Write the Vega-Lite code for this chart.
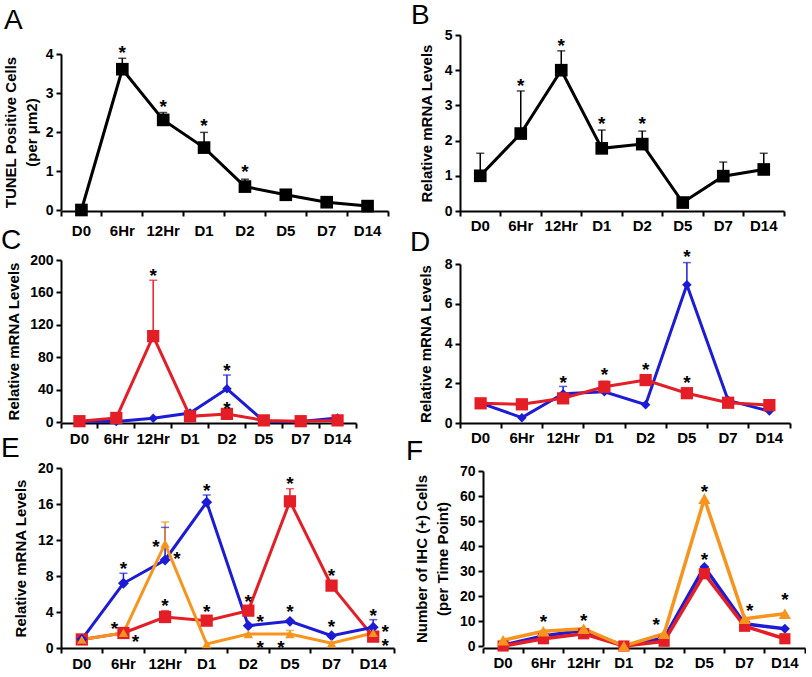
{
"$schema": "https://vega.github.io/schema/vega-lite/v6.json",
"padding": {"left": 1, "top": 2, "right": 0, "bottom": 0},
"config": {
 "view": {"stroke": null},
 "font": "Liberation Sans",
 "axis": {"domainColor": "#000", "domainWidth": 2, "tickColor": "#000", "tickWidth": 2, "tickSize": 5, "labelColor": "#000", "labelFont": "Liberation Sans", "labelFontWeight": "bold", "labelFontSize": 14, "titleColor": "#000", "titleFont": "Liberation Sans", "titleFontWeight": "bold", "titleFontSize": 15, "grid": false, "labelPadding": 3, "titlePadding": 6, "labelOverlap": false},
 "axisX": {"labelFontSize": 15, "labelAngle": 0},
 "axisY": {"tickCount": 20},
 "title": {"font": "Liberation Sans", "fontSize": 28, "fontWeight": "normal", "anchor": "start", "frame": "group", "color": "#000"}
},
"datasets": {
 "A": [{"t":"D0","v":0},{"t":"6Hr","v":3.61,"hi":3.89},{"t":"12Hr","v":2.31,"hi":2.5},{"t":"D1","v":1.6,"hi":1.99},{"t":"D2","v":0.6,"hi":0.79},{"t":"D5","v":0.39},{"t":"D7","v":0.2},{"t":"D14","v":0.1}],
 "As": [{"t":"6Hr","y":4.16},{"t":"12Hr","y":2.77},{"t":"D1","y":2.29},{"t":"D2","y":1.09}],
 "B": [{"t":"D0","v":1.0,"hi":1.64},{"t":"6Hr","v":2.2,"hi":3.41},{"t":"12Hr","v":4.0,"hi":4.55},{"t":"D1","v":1.78,"hi":2.3},{"t":"D2","v":1.9,"hi":2.27},{"t":"D5","v":0.24},{"t":"D7","v":0.99,"hi":1.39},{"t":"D14","v":1.18,"hi":1.64}],
 "Bs": [{"t":"6Hr","y":3.69},{"t":"12Hr","y":4.83},{"t":"D1","y":2.6},{"t":"D2","y":2.6}],
 "C": [{"s":"Catalase","t":"D0","v":1},{"s":"Catalase","t":"6Hr","v":0.5},{"s":"Catalase","t":"12Hr","v":4.5},{"s":"Catalase","t":"D1","v":11},{"s":"Catalase","t":"D2","v":41,"hi":58},{"s":"Catalase","t":"D5","v":1},{"s":"Catalase","t":"D7","v":0.5},{"s":"Catalase","t":"D14","v":5},
       {"s":"Gpx","t":"D0","v":1},{"s":"Gpx","t":"6Hr","v":5},{"s":"Gpx","t":"12Hr","v":106,"hi":175},{"s":"Gpx","t":"D1","v":7},{"s":"Gpx","t":"D2","v":10},{"s":"Gpx","t":"D5","v":2},{"s":"Gpx","t":"D7","v":1},{"s":"Gpx","t":"D14","v":2}],
 "Cs": [{"t":"12Hr","y":187},{"t":"D2","y":69},{"t":"D2","y":22.6}],
 "D": [{"s":"Pax7","t":"D0","v":1.0},{"s":"Pax7","t":"6Hr","v":0.27},{"s":"Pax7","t":"12Hr","v":1.47,"hi":1.84},{"s":"Pax7","t":"D1","v":1.57},{"s":"Pax7","t":"D2","v":0.92},{"s":"Pax7","t":"D5","v":6.96,"hi":8.07},{"s":"Pax7","t":"D7","v":1.14},{"s":"Pax7","t":"D14","v":0.6},
       {"s":"Pax3","t":"D0","v":0.99},{"s":"Pax3","t":"6Hr","v":0.94},{"s":"Pax3","t":"12Hr","v":1.24},{"s":"Pax3","t":"D1","v":1.82,"hi":2.1},{"s":"Pax3","t":"D2","v":2.16,"hi":2.3},{"s":"Pax3","t":"D5","v":1.5},{"s":"Pax3","t":"D7","v":1.02},{"s":"Pax3","t":"D14","v":0.9}],
 "Ds": [{"t":"12Hr","y":2.28},{"t":"D1","y":2.69},{"t":"D2","y":2.91},{"t":"D5","y":8.6},{"t":"D5","y":2.28}],
 "E": [{"s":"Myogenin","t":"D0","v":0.95},{"s":"Myogenin","t":"6Hr","v":1.67},{"s":"Myogenin","t":"12Hr","v":3.44,"hi":4.15},{"s":"Myogenin","t":"D1","v":3.04},{"s":"Myogenin","t":"D2","v":4.15},{"s":"Myogenin","t":"D5","v":16.3,"hi":17.7},{"s":"Myogenin","t":"D7","v":6.93},{"s":"Myogenin","t":"D14","v":1.26},
       {"s":"MyoD","t":"D0","v":0.96},{"s":"MyoD","t":"6Hr","v":7.19,"hi":8.3},{"s":"MyoD","t":"12Hr","v":9.78,"hi":13.4},{"s":"MyoD","t":"D1","v":16.2,"hi":17.0},{"s":"MyoD","t":"D2","v":2.48},{"s":"MyoD","t":"D5","v":2.96},{"s":"MyoD","t":"D7","v":1.37},{"s":"MyoD","t":"D14","v":2.3,"hi":3.15},
       {"s":"Cygb","t":"D0","v":0.93},{"s":"Cygb","t":"6Hr","v":1.67},{"s":"Cygb","t":"12Hr","v":11.6,"hi":14.0},{"s":"Cygb","t":"D1","v":0.44},{"s":"Cygb","t":"D2","v":1.55},{"s":"Cygb","t":"D5","v":1.55,"hi":1.95},{"s":"Cygb","t":"D7","v":0.52},{"s":"Cygb","t":"D14","v":1.67}],
 "Esc": [{"t":"6Hr","y":9.33},{"t":"12Hr","y":5.26},{"t":"D1","y":18.04},{"t":"D1","y":4.52},{"t":"D2","y":5.63},{"t":"D5","y":18.78},{"t":"D5","y":4.52},{"t":"D7","y":8.59},{"t":"D7","y":2.93},{"t":"D14","y":4.15}],
 "Esl": [{"t":"6Hr","y":2.67},{"t":"12Hr","y":11.74},{"t":"D5","y":0.56}],
 "Esr": [{"t":"6Hr","y":1.19},{"t":"12Hr","y":10.44},{"t":"D2","y":3.41},{"t":"D2","y":0.56},{"t":"D14","y":2.3},{"t":"D14","y":0.81}],
 "F": [{"s":"MyoD","t":"D0","v":0.3},{"s":"MyoD","t":"6Hr","v":4},{"s":"MyoD","t":"12Hr","v":6.3},{"s":"MyoD","t":"D1","v":0},{"s":"MyoD","t":"D2","v":3.2},{"s":"MyoD","t":"D5","v":31.6},{"s":"MyoD","t":"D7","v":8.9},{"s":"MyoD","t":"D14","v":6.9},
       {"s":"Cygb+MyoD","t":"D0","v":0},{"s":"Cygb+MyoD","t":"6Hr","v":2.9},{"s":"Cygb+MyoD","t":"12Hr","v":4.9},{"s":"Cygb+MyoD","t":"D1","v":0},{"s":"Cygb+MyoD","t":"D2","v":1.9},{"s":"Cygb+MyoD","t":"D5","v":28.9},{"s":"Cygb+MyoD","t":"D7","v":7.9},{"s":"Cygb+MyoD","t":"D14","v":2.9},
       {"s":"Cygb","t":"D0","v":2.3},{"s":"Cygb","t":"6Hr","v":5.9},{"s":"Cygb","t":"12Hr","v":6.9},{"s":"Cygb","t":"D1","v":0},{"s":"Cygb","t":"D2","v":4.9},{"s":"Cygb","t":"D5","v":58.9},{"s":"Cygb","t":"D7","v":10.9},{"s":"Cygb","t":"D14","v":12.9}],
 "Fsc": [{"t":"6Hr","y":11.6},{"t":"12Hr","y":12},{"t":"D5","y":63.6},{"t":"D5","y":36.3},{"t":"D14","y":20.3}],
 "Fsl": [{"t":"D2","y":10.3}],
 "Fsr": [{"t":"D7","y":15.9}]
},
"bounds": "full",
"spacing": -11,
"resolve": {"scale": {"x": "independent", "y": "independent", "color": "independent", "shape": "independent", "size": "independent"}, "axis": {"x": "independent", "y": "independent"}},
"vconcat": [
 {"hconcat": [
  {"width": 327, "height": 176,
   "title": {"text": "A", "dx": -57, "dy": 4},
   "encoding": {"x": {"field": "t", "type": "ordinal", "sort": ["D0","6Hr","12Hr","D1","D2","D5","D7","D14"], "scale": {"type": "band", "paddingInner": 0, "paddingOuter": 0}, "axis": {"title": null, "bandPosition": 1, "tickExtra": true, "labelPadding": 7}}},
   "layer": [
    {"data": {"name": "A"}, "transform": [{"filter": "isValid(datum.hi)"}], "mark": {"type": "rule", "strokeWidth": 1.5, "color": "#000"},
     "encoding": {"y": {"field": "v", "type": "quantitative", "scale": {"domain": [0, 4], "range": [175, 19], "nice": false}, "axis": {"title": ["TUNEL Positive Cells", "(per μm2)"], "titleLineHeight": 21, "values": [0, 1, 2, 3, 4], "format": "d"}}, "y2": {"field": "hi"}}},
    {"data": {"name": "A"}, "transform": [{"filter": "isValid(datum.hi)"}], "mark": {"type": "tick", "orient": "horizontal", "size": 8, "thickness": 1.5, "color": "#000"},
     "encoding": {"y": {"field": "hi", "type": "quantitative", "scale": {"domain": [0, 4], "range": [175, 19], "nice": false}}}},
    {"data": {"name": "A"}, "mark": {"type": "line", "strokeWidth": 3, "color": "#000"},
     "encoding": {"y": {"field": "v", "type": "quantitative", "scale": {"domain": [0, 4], "range": [175, 19], "nice": false}}}},
    {"data": {"name": "A"}, "mark": {"type": "point", "shape": "square", "filled": true, "opacity": 1, "size": 160, "color": "#000"},
     "encoding": {"y": {"field": "v", "type": "quantitative", "scale": {"domain": [0, 4], "range": [175, 19], "nice": false}}}},
    {"data": {"name": "As"}, "mark": {"type": "text", "text": "*", "fontSize": 19, "fontWeight": "bold", "baseline": "middle", "dy": 5, "color": "#000"},
     "encoding": {"y": {"field": "y", "type": "quantitative", "scale": {"domain": [0, 4], "range": [175, 19], "nice": false}}}}
   ]},
  {"width": 324, "height": 176,
   "title": {"text": "B", "dx": -49, "dy": 6},
   "encoding": {"x": {"field": "t", "type": "ordinal", "sort": ["D0","6Hr","12Hr","D1","D2","D5","D7","D14"], "scale": {"type": "band", "paddingInner": 0, "paddingOuter": 0}, "axis": {"title": null, "bandPosition": 1, "tickExtra": true, "labelPadding": 2}}},
   "layer": [
    {"data": {"name": "B"}, "transform": [{"filter": "isValid(datum.hi)"}], "mark": {"type": "rule", "strokeWidth": 1.5, "color": "#000"},
     "encoding": {"y": {"field": "v", "type": "quantitative", "scale": {"domain": [0, 5], "range": [176, 0], "nice": false}, "axis": {"title": "Relative mRNA Levels", "values": [0, 1, 2, 3, 4, 5], "titlePadding": 10, "format": "d"}}, "y2": {"field": "hi"}}},
    {"data": {"name": "B"}, "transform": [{"filter": "isValid(datum.hi)"}], "mark": {"type": "tick", "orient": "horizontal", "size": 8, "thickness": 1.5, "color": "#000"},
     "encoding": {"y": {"field": "hi", "type": "quantitative", "scale": {"domain": [0, 5], "range": [176, 0], "nice": false}}}},
    {"data": {"name": "B"}, "mark": {"type": "line", "strokeWidth": 3, "color": "#000"},
     "encoding": {"y": {"field": "v", "type": "quantitative", "scale": {"domain": [0, 5], "range": [176, 0], "nice": false}}}},
    {"data": {"name": "B"}, "mark": {"type": "point", "shape": "square", "filled": true, "opacity": 1, "size": 160, "color": "#000"},
     "encoding": {"y": {"field": "v", "type": "quantitative", "scale": {"domain": [0, 5], "range": [176, 0], "nice": false}}}},
    {"data": {"name": "Bs"}, "mark": {"type": "text", "text": "*", "fontSize": 19, "fontWeight": "bold", "baseline": "middle", "dy": 5, "color": "#000"},
     "encoding": {"y": {"field": "y", "type": "quantitative", "scale": {"domain": [0, 5], "range": [176, 0], "nice": false}}}},
    {"mark": {"type": "text", "text": "Sod2", "fontSize": 15, "fontWeight": "bold", "fontStyle": "italic", "align": "left", "baseline": "middle", "dx": 1, "color": "#000"},
     "encoding": {"x": {"datum": "D0"}, "y": {"datum": 4.75, "type": "quantitative", "scale": {"domain": [0, 5], "range": [176, 0], "nice": false}}}}
   ]}
 ], "spacing": 72, "bounds": "flush", "resolve": {"scale": {"x": "independent", "y": "independent", "color": "independent", "shape": "independent", "size": "independent"}, "axis": {"x": "independent", "y": "independent"}}},
 {"hconcat": [
  {"width": 295, "height": 163,
   "title": {"text": "C", "dx": -60, "dy": -10, "offset": -12},
   "encoding": {"x": {"field": "t", "type": "ordinal", "sort": ["D0","6Hr","12Hr","D1","D2","D5","D7","D14"], "scale": {"type": "band", "paddingInner": 0, "paddingOuter": 0}, "axis": {"title": null, "bandPosition": 1, "tickExtra": true, "labelPadding": 3}}},
   "layer": [
    {"data": {"name": "C"}, "transform": [{"filter": "isValid(datum.hi)"}], "mark": {"type": "rule", "strokeWidth": 1.5},
     "encoding": {"y": {"field": "v", "type": "quantitative", "scale": {"domain": [0, 200], "range": [162, 0], "nice": false}, "axis": {"title": "Relative mRNA Levels", "values": [0, 40, 80, 120, 160, 200], "titlePadding": 8, "format": "d"}}, "y2": {"field": "hi"},
      "color": {"field": "s", "type": "nominal", "scale": {"domain": ["Catalase", "Gpx"], "range": ["#1c1cd6", "#e41e26"]}, "legend": null}}},
    {"data": {"name": "C"}, "transform": [{"filter": "isValid(datum.hi)"}], "mark": {"type": "tick", "orient": "horizontal", "size": 8, "thickness": 1.5},
     "encoding": {"y": {"field": "hi", "type": "quantitative", "scale": {"domain": [0, 200], "range": [162, 0], "nice": false}},
      "color": {"field": "s", "type": "nominal", "scale": {"domain": ["Catalase", "Gpx"], "range": ["#1c1cd6", "#e41e26"]}, "legend": null}}},
    {"data": {"name": "C"}, "mark": {"type": "line", "strokeWidth": 3},
     "encoding": {"y": {"field": "v", "type": "quantitative", "scale": {"domain": [0, 200], "range": [162, 0], "nice": false}},
      "color": {"field": "s", "type": "nominal", "scale": {"domain": ["Catalase", "Gpx"], "range": ["#1c1cd6", "#e41e26"]}, "legend": null}}},
    {"data": {"name": "C"}, "mark": {"type": "point", "filled": true, "opacity": 1},
     "encoding": {"y": {"field": "v", "type": "quantitative", "scale": {"domain": [0, 200], "range": [162, 0], "nice": false}},
      "color": {"field": "s", "type": "nominal", "scale": {"domain": ["Catalase", "Gpx"], "range": ["#1c1cd6", "#e41e26"]}, "legend": null},
      "shape": {"field": "s", "type": "nominal", "scale": {"domain": ["Catalase", "Gpx"], "range": ["diamond", "square"]}, "legend": null},
      "size": {"field": "s", "type": "ordinal", "scale": {"domain": ["Catalase", "Gpx"], "range": [90, 150]}, "legend": null}}},
    {"data": {"name": "Cs"}, "mark": {"type": "text", "text": "*", "fontSize": 19, "fontWeight": "bold", "baseline": "middle", "dy": 5, "color": "#000"},
     "encoding": {"y": {"field": "y", "type": "quantitative", "scale": {"domain": [0, 200], "range": [162, 0], "nice": false}}}},
    {"mark": {"type": "text", "text": "Gpx", "fontSize": 15, "fontWeight": "bold", "fontStyle": "italic", "align": "left", "baseline": "middle", "dx": -5, "color": "#e41e26"},
     "encoding": {"x": {"datum": "D0"}, "y": {"datum": 190, "type": "quantitative", "scale": {"domain": [0, 200], "range": [162, 0], "nice": false}}}},
    {"mark": {"type": "text", "text": "Catalase", "fontSize": 15, "fontWeight": "bold", "fontStyle": "italic", "align": "left", "baseline": "middle", "dx": -5, "color": "#1c1cd6"},
     "encoding": {"x": {"datum": "D0"}, "y": {"datum": 164.6, "type": "quantitative", "scale": {"domain": [0, 200], "range": [162, 0], "nice": false}}}}
   ]},
  {"width": 330, "height": 163,
   "title": {"text": "D", "dx": -50, "dy": 13},
   "encoding": {"x": {"field": "t", "type": "ordinal", "sort": ["D0","6Hr","12Hr","D1","D2","D5","D7","D14"], "scale": {"type": "band", "paddingInner": 0, "paddingOuter": 0}, "axis": {"title": null, "bandPosition": 1, "tickExtra": true, "labelPadding": 2}}},
   "layer": [
    {"data": {"name": "D"}, "transform": [{"filter": "isValid(datum.hi)"}], "mark": {"type": "rule", "strokeWidth": 1.5},
     "encoding": {"y": {"field": "v", "type": "quantitative", "scale": {"domain": [0, 8], "range": [163, 4], "nice": false}, "axis": {"title": "Relative mRNA Levels", "values": [0, 2, 4, 6, 8], "titlePadding": 11, "format": "d"}}, "y2": {"field": "hi"},
      "color": {"field": "s", "type": "nominal", "scale": {"domain": ["Pax7", "Pax3"], "range": ["#1c1cd6", "#e41e26"]}, "legend": null}}},
    {"data": {"name": "D"}, "transform": [{"filter": "isValid(datum.hi)"}], "mark": {"type": "tick", "orient": "horizontal", "size": 8, "thickness": 1.5},
     "encoding": {"y": {"field": "hi", "type": "quantitative", "scale": {"domain": [0, 8], "range": [163, 4], "nice": false}},
      "color": {"field": "s", "type": "nominal", "scale": {"domain": ["Pax7", "Pax3"], "range": ["#1c1cd6", "#e41e26"]}, "legend": null}}},
    {"data": {"name": "D"}, "mark": {"type": "line", "strokeWidth": 3},
     "encoding": {"y": {"field": "v", "type": "quantitative", "scale": {"domain": [0, 8], "range": [163, 4], "nice": false}},
      "color": {"field": "s", "type": "nominal", "scale": {"domain": ["Pax7", "Pax3"], "range": ["#1c1cd6", "#e41e26"]}, "legend": null}}},
    {"data": {"name": "D"}, "mark": {"type": "point", "filled": true, "opacity": 1},
     "encoding": {"y": {"field": "v", "type": "quantitative", "scale": {"domain": [0, 8], "range": [163, 4], "nice": false}},
      "color": {"field": "s", "type": "nominal", "scale": {"domain": ["Pax7", "Pax3"], "range": ["#1c1cd6", "#e41e26"]}, "legend": null},
      "shape": {"field": "s", "type": "nominal", "scale": {"domain": ["Pax7", "Pax3"], "range": ["diamond", "square"]}, "legend": null},
      "size": {"field": "s", "type": "ordinal", "scale": {"domain": ["Pax7", "Pax3"], "range": [90, 150]}, "legend": null}}},
    {"data": {"name": "Ds"}, "mark": {"type": "text", "text": "*", "fontSize": 19, "fontWeight": "bold", "baseline": "middle", "dy": 5, "color": "#000"},
     "encoding": {"y": {"field": "y", "type": "quantitative", "scale": {"domain": [0, 8], "range": [163, 4], "nice": false}}}},
    {"mark": {"type": "text", "text": "Pax3", "fontSize": 15, "fontWeight": "bold", "fontStyle": "italic", "align": "left", "baseline": "middle", "dx": -6, "color": "#e41e26"},
     "encoding": {"x": {"datum": "D0"}, "y": {"datum": 7.67, "type": "quantitative", "scale": {"domain": [0, 8], "range": [163, 4], "nice": false}}}},
    {"mark": {"type": "text", "text": "Pax7", "fontSize": 15, "fontWeight": "bold", "fontStyle": "italic", "align": "left", "baseline": "middle", "dx": -6, "color": "#1c1cd6"},
     "encoding": {"x": {"datum": "D0"}, "y": {"datum": 6.71, "type": "quantitative", "scale": {"domain": [0, 8], "range": [163, 4], "nice": false}}}}
   ]}
 ], "spacing": 104, "bounds": "flush", "resolve": {"scale": {"x": "independent", "y": "independent", "color": "independent", "shape": "independent", "size": "independent"}, "axis": {"x": "independent", "y": "independent"}}},
 {"hconcat": [
  {"width": 333, "height": 180,
   "title": {"text": "E", "dx": -60, "dy": -10, "offset": -12},
   "encoding": {"x": {"field": "t", "type": "ordinal", "sort": ["D0","6Hr","12Hr","D1","D2","D5","D7","D14"], "scale": {"type": "band", "paddingInner": 0, "paddingOuter": 0}, "axis": {"title": null, "bandPosition": 1, "tickExtra": true, "labelPadding": 3}}},
   "layer": [
    {"data": {"name": "E"}, "transform": [{"filter": "isValid(datum.hi)"}], "mark": {"type": "rule", "strokeWidth": 1.5},
     "encoding": {"y": {"field": "v", "type": "quantitative", "scale": {"domain": [0, 20], "range": [180, 0], "nice": false}, "axis": {"title": "Relative mRNA Levels", "values": [0, 4, 8, 12, 16, 20], "titlePadding": 9, "format": "d"}}, "y2": {"field": "hi"},
      "color": {"field": "s", "type": "nominal", "scale": {"domain": ["Myogenin", "MyoD", "Cygb"], "range": ["#e41e26", "#1c1cd6", "#f7941d"]}, "legend": null}}},
    {"data": {"name": "E"}, "transform": [{"filter": "isValid(datum.hi)"}], "mark": {"type": "tick", "orient": "horizontal", "size": 8, "thickness": 1.5},
     "encoding": {"y": {"field": "hi", "type": "quantitative", "scale": {"domain": [0, 20], "range": [180, 0], "nice": false}},
      "color": {"field": "s", "type": "nominal", "scale": {"domain": ["Myogenin", "MyoD", "Cygb"], "range": ["#e41e26", "#1c1cd6", "#f7941d"]}, "legend": null}}},
    {"data": {"name": "E"}, "mark": {"type": "line", "strokeWidth": 3},
     "encoding": {"y": {"field": "v", "type": "quantitative", "scale": {"domain": [0, 20], "range": [180, 0], "nice": false}},
      "color": {"field": "s", "type": "nominal", "scale": {"domain": ["Myogenin", "MyoD", "Cygb"], "range": ["#e41e26", "#1c1cd6", "#f7941d"]}, "legend": null}}},
    {"data": {"name": "E"}, "mark": {"type": "point", "filled": true, "opacity": 1},
     "encoding": {"y": {"field": "v", "type": "quantitative", "scale": {"domain": [0, 20], "range": [180, 0], "nice": false}},
      "color": {"field": "s", "type": "nominal", "scale": {"domain": ["Myogenin", "MyoD", "Cygb"], "range": ["#e41e26", "#1c1cd6", "#f7941d"]}, "legend": null},
      "shape": {"field": "s", "type": "nominal", "scale": {"domain": ["Myogenin", "MyoD", "Cygb"], "range": ["square", "diamond", "triangle-up"]}, "legend": null},
      "size": {"field": "s", "type": "ordinal", "scale": {"domain": ["Myogenin", "MyoD", "Cygb"], "range": [150, 90, 130]}, "legend": null}}},
    {"data": {"name": "Esc"}, "mark": {"type": "text", "text": "*", "fontSize": 19, "fontWeight": "bold", "baseline": "middle", "dy": 5, "color": "#000"},
     "encoding": {"y": {"field": "y", "type": "quantitative", "scale": {"domain": [0, 20], "range": [180, 0], "nice": false}}}},
    {"data": {"name": "Esl"}, "mark": {"type": "text", "text": "*", "fontSize": 19, "fontWeight": "bold", "baseline": "middle", "dy": 5, "dx": -9, "color": "#000"},
     "encoding": {"y": {"field": "y", "type": "quantitative", "scale": {"domain": [0, 20], "range": [180, 0], "nice": false}}}},
    {"data": {"name": "Esr"}, "mark": {"type": "text", "text": "*", "fontSize": 19, "fontWeight": "bold", "baseline": "middle", "dy": 5, "dx": 12, "color": "#000"},
     "encoding": {"y": {"field": "y", "type": "quantitative", "scale": {"domain": [0, 20], "range": [180, 0], "nice": false}}}},
    {"mark": {"type": "text", "text": "Myogenin", "fontSize": 15, "fontWeight": "bold", "fontStyle": "italic", "align": "left", "baseline": "middle", "dx": -9, "color": "#e41e26"},
     "encoding": {"x": {"datum": "D0"}, "y": {"datum": 19.15, "type": "quantitative", "scale": {"domain": [0, 20], "range": [180, 0], "nice": false}}}},
    {"mark": {"type": "text", "text": "MyoD", "fontSize": 15, "fontWeight": "bold", "fontStyle": "italic", "align": "left", "baseline": "middle", "dx": -9, "color": "#1c1cd6"},
     "encoding": {"x": {"datum": "D0"}, "y": {"datum": 17.19, "type": "quantitative", "scale": {"domain": [0, 20], "range": [180, 0], "nice": false}}}},
    {"mark": {"type": "text", "text": "Cygb", "fontSize": 15, "fontWeight": "bold", "fontStyle": "italic", "align": "left", "baseline": "middle", "dx": -9, "color": "#f7941d"},
     "encoding": {"x": {"datum": "D0"}, "y": {"datum": 15.26, "type": "quantitative", "scale": {"domain": [0, 20], "range": [180, 0], "nice": false}}}}
   ]},
  {"width": 322, "height": 180,
   "title": {"text": "F", "dx": -77, "dy": -10, "offset": -12},
   "encoding": {"x": {"field": "t", "type": "ordinal", "sort": ["D0","6Hr","12Hr","D1","D2","D5","D7","D14"], "scale": {"type": "band", "paddingInner": 0, "paddingOuter": 0}, "axis": {"title": null, "bandPosition": 1, "tickExtra": true, "labelPadding": 2}}},
   "layer": [
    {"data": {"name": "F"}, "mark": {"type": "line", "strokeWidth": 3.5},
     "encoding": {"y": {"field": "v", "type": "quantitative", "scale": {"domain": [0, 70], "range": [178, 3], "nice": false}, "axis": {"title": ["Number of IHC (+) Cells", "(per Time Point)"], "titleLineHeight": 21, "values": [0, 10, 20, 30, 40, 50, 60, 70], "titlePadding": 9, "format": "d"}},
      "color": {"field": "s", "type": "nominal", "scale": {"domain": ["MyoD", "Cygb+MyoD", "Cygb"], "range": ["#1c1cd6", "#e41e26", "#f7941d"]}, "legend": null}}},
    {"data": {"name": "F"}, "mark": {"type": "point", "filled": true, "opacity": 1},
     "encoding": {"y": {"field": "v", "type": "quantitative", "scale": {"domain": [0, 70], "range": [178, 3], "nice": false}},
      "color": {"field": "s", "type": "nominal", "scale": {"domain": ["MyoD", "Cygb+MyoD", "Cygb"], "range": ["#1c1cd6", "#e41e26", "#f7941d"]}, "legend": null},
      "shape": {"field": "s", "type": "nominal", "scale": {"domain": ["MyoD", "Cygb+MyoD", "Cygb"], "range": ["diamond", "square", "triangle-up"]}, "legend": null},
      "size": {"field": "s", "type": "ordinal", "scale": {"domain": ["MyoD", "Cygb+MyoD", "Cygb"], "range": [100, 150, 140]}, "legend": null}}},
    {"data": {"name": "Fsc"}, "mark": {"type": "text", "text": "*", "fontSize": 19, "fontWeight": "bold", "baseline": "middle", "dy": 5, "color": "#000"},
     "encoding": {"y": {"field": "y", "type": "quantitative", "scale": {"domain": [0, 70], "range": [178, 3], "nice": false}}}},
    {"data": {"name": "Fsl"}, "mark": {"type": "text", "text": "*", "fontSize": 19, "fontWeight": "bold", "baseline": "middle", "dy": 5, "dx": -8, "color": "#000"},
     "encoding": {"y": {"field": "y", "type": "quantitative", "scale": {"domain": [0, 70], "range": [178, 3], "nice": false}}}},
    {"data": {"name": "Fsr"}, "mark": {"type": "text", "text": "*", "fontSize": 19, "fontWeight": "bold", "baseline": "middle", "dy": 5, "dx": 5, "color": "#000"},
     "encoding": {"y": {"field": "y", "type": "quantitative", "scale": {"domain": [0, 70], "range": [178, 3], "nice": false}}}},
    {"mark": {"type": "text", "text": "Cygb+MyoD (+) cells", "fontSize": 15.5, "fontWeight": "bold", "align": "left", "baseline": "middle", "dx": -7, "color": "#e41e26"},
     "encoding": {"x": {"datum": "D0"}, "y": {"datum": 67.6, "type": "quantitative", "scale": {"domain": [0, 70], "range": [178, 3], "nice": false}}}},
    {"mark": {"type": "text", "text": "MyoD", "fontSize": 15.5, "fontWeight": "bold", "fontStyle": "italic", "align": "left", "baseline": "middle", "dx": -7, "color": "#1c1cd6"},
     "encoding": {"x": {"datum": "D0"}, "y": {"datum": 60.3, "type": "quantitative", "scale": {"domain": [0, 70], "range": [178, 3], "nice": false}}}},
    {"mark": {"type": "text", "text": "(+) cells", "fontSize": 15.5, "fontWeight": "bold", "align": "left", "baseline": "middle", "dx": 39, "color": "#1c1cd6"},
     "encoding": {"x": {"datum": "D0"}, "y": {"datum": 60.3, "type": "quantitative", "scale": {"domain": [0, 70], "range": [178, 3], "nice": false}}}},
    {"mark": {"type": "text", "text": "Cygb (+) cells", "fontSize": 15.5, "fontWeight": "bold", "align": "left", "baseline": "middle", "dx": -7, "color": "#f7941d"},
     "encoding": {"x": {"datum": "D0"}, "y": {"datum": 53.2, "type": "quantitative", "scale": {"domain": [0, 70], "range": [178, 3], "nice": false}}}}
   ]}
 ], "spacing": 89, "bounds": "flush", "resolve": {"scale": {"x": "independent", "y": "independent", "color": "independent", "shape": "independent", "size": "independent"}, "axis": {"x": "independent", "y": "independent"}}}
]
}
